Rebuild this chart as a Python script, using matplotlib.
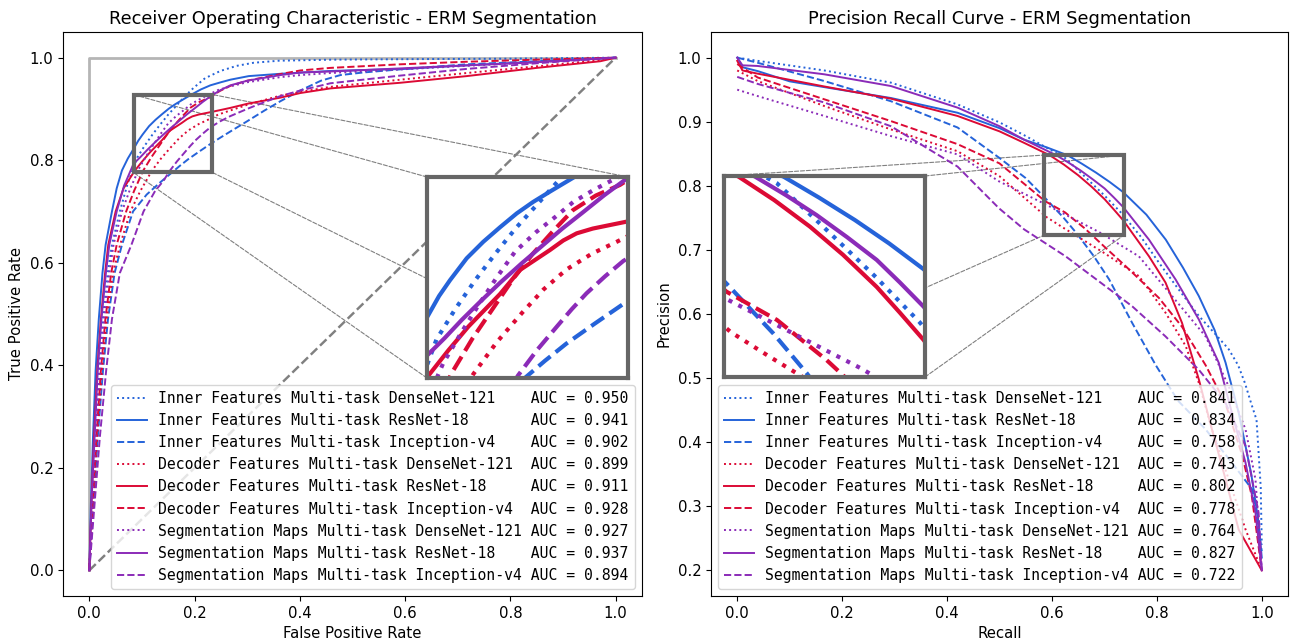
import matplotlib
matplotlib.use("Agg")
import matplotlib.pyplot as plt
from matplotlib.patches import Rectangle, ConnectionPatch

# ---------------- data ----------------
model_names = [
    "Inner Features Multi-task DenseNet-121",
    "Inner Features Multi-task ResNet-18",
    "Inner Features Multi-task Inception-v4",
    "Decoder Features Multi-task DenseNet-121",
    "Decoder Features Multi-task ResNet-18",
    "Decoder Features Multi-task Inception-v4",
    "Segmentation Maps Multi-task DenseNet-121",
    "Segmentation Maps Multi-task ResNet-18",
    "Segmentation Maps Multi-task Inception-v4",
]
roc_auc = [0.950, 0.941, 0.902, 0.899, 0.911, 0.928, 0.927, 0.937, 0.894]
pr_auc = [0.841, 0.834, 0.758, 0.743, 0.802, 0.778, 0.764, 0.827, 0.722]

# ROC curves (FPR, TPR)
roc_fpr_inner_dense = [0, 0.005, 0.011, 0.018, 0.0255, 0.035, 0.043, 0.058, 0.073, 0.091, 0.105, 0.120, 0.135, 0.150, 0.166, 0.181, 0.198, 0.220, 0.249, 0.280, 0.312, 0.360, 0.460, 0.600, 0.800, 1.0]
roc_tpr_inner_dense = [0, 0.13, 0.26, 0.39, 0.49, 0.58, 0.635, 0.70, 0.755, 0.805, 0.828, 0.850, 0.870, 0.889, 0.907, 0.924, 0.941, 0.960, 0.974, 0.984, 0.990, 0.994, 0.996, 0.997, 0.998, 1.0]
roc_fpr_inner_res = [0, 0.003, 0.007, 0.012, 0.018, 0.025, 0.031, 0.043, 0.052, 0.062, 0.073, 0.085, 0.093, 0.1012, 0.1136, 0.126, 0.1385, 0.151, 0.163, 0.1758, 0.194, 0.212, 0.230, 0.250, 0.268, 0.303, 0.363, 0.458, 0.600, 0.717, 0.850, 1.0]
roc_tpr_inner_res = [0, 0.13, 0.26, 0.39, 0.49, 0.58, 0.635, 0.70, 0.745, 0.78, 0.803, 0.8236, 0.838, 0.850, 0.8665, 0.879, 0.890, 0.9005, 0.909, 0.917, 0.928, 0.938, 0.946, 0.952, 0.957, 0.964, 0.9685, 0.974, 0.978, 0.985, 0.992, 1.0]
roc_fpr_inner_incep = [0, 0.008, 0.016, 0.026, 0.0355, 0.048, 0.062, 0.083, 0.109, 0.135, 0.157, 0.172, 0.188, 0.209, 0.2305, 0.249, 0.268, 0.300, 0.333, 0.363, 0.401, 0.440, 0.477, 0.520, 0.600, 0.717, 0.850, 1.0]
roc_tpr_inner_incep = [0, 0.13, 0.26, 0.39, 0.49, 0.58, 0.635, 0.70, 0.733, 0.757, 0.776, 0.789, 0.802, 0.817, 0.832, 0.844, 0.856, 0.876, 0.897, 0.915, 0.936, 0.955, 0.966, 0.971, 0.978, 0.987, 0.993, 1.0]
roc_fpr_dec_dense = [0, 0.007, 0.015, 0.024, 0.033, 0.045, 0.0585, 0.078, 0.097, 0.1186, 0.136, 0.1547, 0.171, 0.188, 0.207, 0.2256, 0.245, 0.268, 0.300, 0.363, 0.401, 0.458, 0.591, 0.717, 0.850, 0.960, 1.0]
roc_tpr_dec_dense = [0, 0.13, 0.26, 0.39, 0.49, 0.58, 0.635, 0.70, 0.74, 0.779, 0.803, 0.825, 0.843, 0.858, 0.870, 0.879, 0.889, 0.897, 0.908, 0.926, 0.933, 0.943, 0.957, 0.970, 0.983, 0.994, 1.0]
roc_fpr_dec_res = [0, 0.004, 0.009, 0.015, 0.022, 0.030, 0.036, 0.050, 0.065, 0.086, 0.100, 0.115, 0.1385, 0.1534, 0.1758, 0.1857, 0.1957, 0.2077, 0.2197, 0.2318, 0.250, 0.268, 0.300, 0.363, 0.401, 0.458, 0.591, 0.717, 0.850, 0.971, 1.0]
roc_tpr_dec_res = [0, 0.13, 0.26, 0.39, 0.49, 0.58, 0.635, 0.70, 0.745, 0.779, 0.797, 0.815, 0.8395, 0.8577, 0.8728, 0.880, 0.8854, 0.889, 0.8915, 0.894, 0.898, 0.902, 0.910, 0.922, 0.931, 0.940, 0.951, 0.964, 0.980, 0.993, 1.0]
roc_fpr_dec_incep = [0, 0.0065, 0.0135, 0.022, 0.0305, 0.0415, 0.052, 0.070, 0.085, 0.102, 0.118, 0.1355, 0.149, 0.163, 0.178, 0.193, 0.210, 0.228, 0.248, 0.268, 0.300, 0.363, 0.401, 0.458, 0.591, 0.717, 0.850, 1.0]
roc_tpr_dec_incep = [0, 0.13, 0.26, 0.39, 0.49, 0.58, 0.635, 0.70, 0.74, 0.779, 0.806, 0.832, 0.852, 0.870, 0.887, 0.903, 0.914, 0.922, 0.935, 0.945, 0.955, 0.968, 0.975, 0.980, 0.987, 0.992, 0.996, 1.0]
roc_fpr_seg_dense = [0, 0.006, 0.012, 0.020, 0.028, 0.038, 0.046, 0.062, 0.078, 0.096, 0.110, 0.123, 0.136, 0.1497, 0.165, 0.180, 0.193, 0.208, 0.223, 0.245, 0.268, 0.300, 0.363, 0.401, 0.458, 0.591, 0.717, 0.850, 1.0]
roc_tpr_seg_dense = [0, 0.13, 0.26, 0.39, 0.49, 0.58, 0.635, 0.70, 0.745, 0.787, 0.811, 0.832, 0.852, 0.8715, 0.886, 0.898, 0.909, 0.918, 0.926, 0.937, 0.944, 0.952, 0.962, 0.966, 0.970, 0.977, 0.984, 0.991, 1.0]
roc_fpr_seg_res = [0, 0.004, 0.010, 0.016, 0.023, 0.0315, 0.038, 0.052, 0.066, 0.084, 0.097, 0.110, 0.124, 0.1385, 0.155, 0.170, 0.185, 0.200, 0.216, 0.232, 0.250, 0.268, 0.300, 0.363, 0.401, 0.458, 0.591, 0.717, 0.850, 1.0]
roc_tpr_seg_res = [0, 0.13, 0.26, 0.39, 0.49, 0.58, 0.635, 0.70, 0.75, 0.793, 0.806, 0.820, 0.834, 0.848, 0.863, 0.876, 0.889, 0.901, 0.914, 0.926, 0.937, 0.946, 0.955, 0.966, 0.971, 0.973, 0.979, 0.985, 0.991, 1.0]
roc_fpr_seg_incep = [0, 0.010, 0.020, 0.032, 0.043, 0.058, 0.080, 0.103, 0.125, 0.141, 0.152, 0.166, 0.181, 0.192, 0.203, 0.217, 0.2305, 0.249, 0.268, 0.300, 0.312, 0.363, 0.401, 0.458, 0.520, 0.591, 0.717, 0.850, 1.0]
roc_tpr_seg_incep = [0, 0.13, 0.26, 0.39, 0.49, 0.58, 0.635, 0.70, 0.74, 0.760, 0.778, 0.797, 0.815, 0.828, 0.840, 0.853, 0.8645, 0.876, 0.886, 0.900, 0.905, 0.925, 0.936, 0.950, 0.957, 0.965, 0.978, 0.989, 1.0]

# PR curves (Recall, Precision)
pr_rec_inner_dense = [0, 0.039, 0.166, 0.293, 0.420, 0.500, 0.547, 0.625, 0.660, 0.700, 0.733, 0.770, 0.804, 0.840, 0.880, 0.910, 0.937, 0.955, 0.968, 0.980, 0.990, 0.998, 1.0]
pr_prec_inner_dense = [1.0, 0.995, 0.980, 0.961, 0.927, 0.899, 0.879, 0.8435, 0.8165, 0.785, 0.757, 0.72, 0.68, 0.64, 0.597, 0.57, 0.545, 0.52, 0.492, 0.46, 0.435, 0.33, 0.24]
pr_rec_inner_res = [0, 0.010, 0.039, 0.100, 0.166, 0.293, 0.420, 0.500, 0.547, 0.590, 0.630, 0.657, 0.684, 0.710, 0.736, 0.780, 0.817, 0.850, 0.880, 0.910, 0.931, 0.956, 0.980, 0.993, 1.0]
pr_prec_inner_res = [1.0, 0.985, 0.979, 0.963, 0.954, 0.937, 0.914, 0.890, 0.872, 0.860, 0.8476, 0.8345, 0.8206, 0.806, 0.790, 0.755, 0.716, 0.672, 0.628, 0.575, 0.524, 0.446, 0.35, 0.28, 0.22]
pr_rec_inner_incep = [0, 0.039, 0.166, 0.293, 0.420, 0.499, 0.550, 0.587, 0.6224, 0.6476, 0.680, 0.709, 0.753, 0.798, 0.840, 0.893, 0.943, 0.982, 1.0]
pr_prec_inner_incep = [1.0, 0.992, 0.9635, 0.932, 0.891, 0.844, 0.812, 0.781, 0.750, 0.7253, 0.69, 0.654, 0.586, 0.520, 0.465, 0.42, 0.368, 0.326, 0.23]
pr_rec_dec_dense = [0, 0.039, 0.166, 0.293, 0.420, 0.500, 0.590, 0.6195, 0.640, 0.700, 0.766, 0.8165, 0.855, 0.880, 0.905, 0.937, 0.969, 1.0]
pr_prec_dec_dense = [0.98, 0.9635, 0.9245, 0.888, 0.854, 0.815, 0.751, 0.7356, 0.7253, 0.695, 0.659, 0.602, 0.55, 0.4926, 0.42, 0.342, 0.264, 0.2]
pr_rec_dec_res = [0, 0.010, 0.039, 0.166, 0.293, 0.420, 0.500, 0.547, 0.596, 0.623, 0.650, 0.675, 0.7005, 0.718, 0.736, 0.785, 0.8165, 0.848, 0.880, 0.905, 0.931, 0.956, 1.0]
pr_prec_dec_res = [0.995, 0.98, 0.975, 0.955, 0.936, 0.909, 0.885, 0.867, 0.8476, 0.833, 0.8165, 0.799, 0.779, 0.763, 0.746, 0.690, 0.649, 0.586, 0.498, 0.42, 0.342, 0.2635, 0.2]
pr_rec_dec_incep = [0, 0.039, 0.166, 0.293, 0.420, 0.500, 0.587, 0.625, 0.6625, 0.700, 0.740, 0.804, 0.848, 0.893, 0.931, 0.9625, 0.981, 1.0]
pr_prec_dec_incep = [0.99, 0.969, 0.935, 0.901, 0.865, 0.835, 0.776, 0.7585, 0.7336, 0.705, 0.675, 0.625, 0.58, 0.52, 0.46, 0.38, 0.316, 0.2]
pr_rec_seg_dense = [0, 0.039, 0.166, 0.293, 0.420, 0.499, 0.588, 0.6375, 0.6895, 0.7657, 0.829, 0.893, 0.937, 0.969, 0.988, 1.0]
pr_prec_seg_dense = [0.95, 0.94, 0.909, 0.8776, 0.849, 0.807, 0.771, 0.750, 0.728, 0.690, 0.628, 0.565, 0.487, 0.42, 0.342, 0.2]
pr_rec_seg_res = [0, 0.010, 0.039, 0.166, 0.293, 0.420, 0.500, 0.547, 0.6085, 0.632, 0.655, 0.678, 0.7005, 0.718, 0.736, 0.785, 0.8356, 0.880, 0.918, 0.943, 0.969, 0.988, 1.0]
pr_prec_seg_res = [1.0, 0.988, 0.987, 0.974, 0.9557, 0.922, 0.893, 0.872, 0.8476, 0.836, 0.8237, 0.810, 0.7958, 0.7818, 0.7667, 0.716, 0.654, 0.5915, 0.524, 0.446, 0.368, 0.29, 0.2]
pr_rec_seg_incep = [0, 0.039, 0.166, 0.293, 0.420, 0.499, 0.547, 0.626, 0.753, 0.8165, 0.880, 0.931, 0.969, 0.994, 1.0]
pr_prec_seg_incep = [0.97, 0.959, 0.930, 0.893, 0.83, 0.765, 0.732, 0.690, 0.612, 0.565, 0.513, 0.461, 0.394, 0.29, 0.2]

# ---------------- styling ----------------
plt.rcParams["font.size"] = 10.7
BLUE = "#2563d9"
RED = "#dc0a35"
PURPLE = "#8b2bb8"
series_colors = [BLUE, BLUE, BLUE, RED, RED, RED, PURPLE, PURPLE, PURPLE]
series_styles = [":", "-", "--", ":", "-", "--", ":", "-", "--"]

roc_x = [roc_fpr_inner_dense, roc_fpr_inner_res, roc_fpr_inner_incep,
         roc_fpr_dec_dense, roc_fpr_dec_res, roc_fpr_dec_incep,
         roc_fpr_seg_dense, roc_fpr_seg_res, roc_fpr_seg_incep]
roc_y = [roc_tpr_inner_dense, roc_tpr_inner_res, roc_tpr_inner_incep,
         roc_tpr_dec_dense, roc_tpr_dec_res, roc_tpr_dec_incep,
         roc_tpr_seg_dense, roc_tpr_seg_res, roc_tpr_seg_incep]
pr_x = [pr_rec_inner_dense, pr_rec_inner_res, pr_rec_inner_incep,
        pr_rec_dec_dense, pr_rec_dec_res, pr_rec_dec_incep,
        pr_rec_seg_dense, pr_rec_seg_res, pr_rec_seg_incep]
pr_y = [pr_prec_inner_dense, pr_prec_inner_res, pr_prec_inner_incep,
        pr_prec_dec_dense, pr_prec_dec_res, pr_prec_dec_incep,
        pr_prec_seg_dense, pr_prec_seg_res, pr_prec_seg_incep]

W, H = 1290, 642
fig = plt.figure(figsize=(W / 100, H / 100), dpi=100)
ax1 = fig.add_axes([63 / W, 46 / H, 579 / W, 564 / H])
ax2 = fig.add_axes([711 / W, 46 / H, 577 / W, 564 / H])

GRAYFRAME = "#666666"
legend_prop = {"family": "DejaVu Sans Mono", "size": 10.6}
MAIN_LW = 1.4


def add_zoom(ax, axins, x0, x1, y0, y1):
    axins.set_xlim(x0, x1)
    axins.set_ylim(y0, y1)
    axins.set_xticks([])
    axins.set_yticks([])
    for s in axins.spines.values():
        s.set_edgecolor(GRAYFRAME)
        s.set_linewidth(3)
    rect = Rectangle((x0, y0), x1 - x0, y1 - y0, fill=False,
                     edgecolor=GRAYFRAME, linewidth=3, zorder=4)
    ax.add_patch(rect)
    for (cx, cy), (dx, dy) in [((0, 0), (x0, y0)), ((0, 1), (x0, y1)),
                               ((1, 0), (x1, y0)), ((1, 1), (x1, y1))]:
        con = ConnectionPatch(xyA=(cx, cy), coordsA=axins.transAxes,
                              xyB=(dx, dy), coordsB=ax.transData,
                              color="gray", linestyle="--", linewidth=0.8,
                              zorder=1.5)
        ax.add_artist(con)


# ---------------- ROC ----------------
ax1.plot([0, 0, 1], [0, 1, 1], color="#b5b5b5", lw=2)
ax1.plot([0, 1], [0, 1], linestyle="--", color="gray", lw=1.75)
for i in range(9):
    lab = f"{model_names[i]:<41} AUC = {roc_auc[i]:.3f}"
    ax1.plot(roc_x[i], roc_y[i], color=series_colors[i], linestyle=series_styles[i],
             lw=MAIN_LW, label=lab)
ax1.set_xlim(-0.05, 1.05)
ax1.set_ylim(-0.05, 1.05)
ax1.set_xticks([0, 0.2, 0.4, 0.6, 0.8, 1.0])
ax1.set_yticks([0, 0.2, 0.4, 0.6, 0.8, 1.0])
ax1.set_xlabel("False Positive Rate")
ax1.set_ylabel("True Positive Rate")
ax1.set_title("Receiver Operating Characteristic - ERM Segmentation", fontsize=12.8)
ax1.legend(loc="lower right", prop=legend_prop, labelspacing=0.48)

axins1 = ax1.inset_axes([(427 - 63) / 579, (596 - 378) / 564, 201 / 579, 201 / 564])
for i in range(9):
    axins1.plot(roc_x[i], roc_y[i], color=series_colors[i],
                linestyle=series_styles[i], lw=3)
add_zoom(ax1, axins1, 0.084, 0.234, 0.776, 0.928)

# ---------------- PR ----------------
for i in range(9):
    lab = f"{model_names[i]:<41} AUC = {pr_auc[i]:.3f}"
    ax2.plot(pr_x[i], pr_y[i], color=series_colors[i], linestyle=series_styles[i],
             lw=MAIN_LW, label=lab)
ax2.set_xlim(-0.05, 1.05)
ax2.set_ylim(0.16, 1.04)
ax2.set_xticks([0, 0.2, 0.4, 0.6, 0.8, 1.0])
ax2.set_yticks([0.2, 0.3, 0.4, 0.5, 0.6, 0.7, 0.8, 0.9, 1.0])
ax2.set_xlabel("Recall")
ax2.set_ylabel("Precision")
ax2.set_title("Precision Recall Curve - ERM Segmentation", fontsize=12.8)
ax2.legend(loc="lower left", prop=legend_prop, labelspacing=0.48)

axins2 = ax2.inset_axes([(724 - 711) / 577, (596 - 377) / 564, 201 / 577, 201 / 564])
for i in range(9):
    axins2.plot(pr_x[i], pr_y[i], color=series_colors[i],
                linestyle=series_styles[i], lw=3)
add_zoom(ax2, axins2, 0.585, 0.737, 0.723, 0.848)

fig.savefig("out.png", dpi=100)
